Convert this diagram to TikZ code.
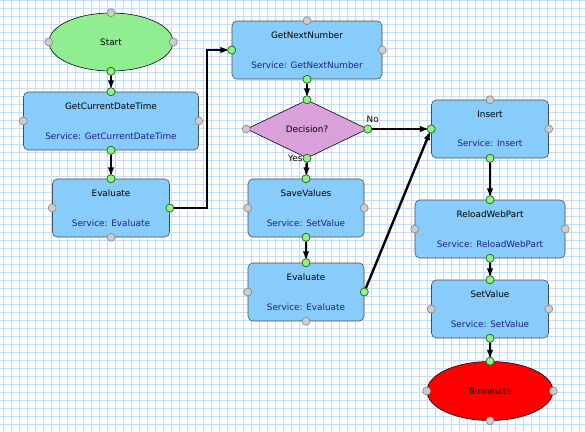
\documentclass[tikz,border=0pt]{standalone}
\usepackage{fontspec}
\usepackage{xcolor}
\usetikzlibrary{shapes,arrows.meta,positioning,backgrounds}
\newfontfamily\diafont{DejaVu Sans}
\definecolor{boxblue}{RGB}{135,204,250}
\definecolor{startgreen}{RGB}{144,238,144}
\definecolor{decpink}{RGB}{218,160,218}
\definecolor{termred}{RGB}{255,0,0}
\definecolor{svcblue}{RGB}{30,30,140}
\definecolor{gridblue}{RGB}{196,222,250}
\definecolor{dotgray}{RGB}{205,205,205}
\definecolor{dotgreen}{RGB}{150,238,140}

\begin{document}
\begin{tikzpicture}[
		x=0.25mm, y=-0.25mm,
		every node/.style={font=\diafont\fontsize{6.3}{7.5}\selectfont},
		service/.style={
			draw=black!70,
			rectangle,
			rounded corners=1.2mm,
			fill=boxblue,
			minimum height=58*0.25mm,
			inner sep=0pt,
			align=center
		},
		flow/.style={line width=1.7pt, -{Latex[length=7pt,width=4.5pt]}, shorten >=1pt},
		pin/.style={circle, draw=black!50, fill=dotgray, inner sep=0pt, minimum size=2mm},
		used/.style={circle, draw=green!40!black, fill=dotgreen, inner sep=0pt, minimum size=2mm}
		]
		
		% Grid
		\fill[white] (0,0) rectangle (585,431);
		\useasboundingbox (0,0) rectangle (585,431);
		\foreach \gx in {3,11,...,585}
		\draw[gridblue, line width=0.6pt] (\gx,0) -- (\gx,431);
		\foreach \gy in {0,8,...,431}
		\draw[gridblue, line width=0.6pt] (0,\gy) -- (585,\gy);
		
		% Start
		\node[
		draw,
		ellipse,
		fill=startgreen,
		minimum width=124*0.25mm,
		minimum height=58*0.25mm,
		inner sep=0pt
		] (start) at (111,42) {Start};
		
		% Left column
		\node[service, minimum width=175*0.25mm] (getdate) at (111,121)
		{GetCurrentDateTime\\[13.5pt]\textcolor{svcblue}{Service: GetCurrentDateTime}};
		
		\node[service, minimum width=117*0.25mm] (evalA) at (111,208)
		{Evaluate\\[13.5pt]\textcolor{svcblue}{Service: Evaluate}};
		
		% Middle column
		\node[service, minimum width=150*0.25mm] (nextnum) at (307,50)
		{GetNextNumber\\[13.5pt]\textcolor{svcblue}{Service: GetNextNumber}};
		
		\node[
		draw,
		diamond,
		fill=decpink,
		minimum width=121*0.25mm,
		minimum height=58*0.25mm,
		inner sep=0pt
		] (decision) at (307,129) {Decision?};
		
		\node[service, minimum width=116*0.25mm] (save) at (306,208)
		{SaveValues\\[13.5pt]\textcolor{svcblue}{Service: SetValue}};
		
		\node[service, minimum width=116*0.25mm] (evalB) at (306,292)
		{Evaluate\\[13.5pt]\textcolor{svcblue}{Service: Evaluate}};
		
		% Right column
		\node[service, minimum width=117*0.25mm] (insert) at (490,129)
		{Insert\\[13.5pt]\textcolor{svcblue}{Service: Insert}};
		
		\node[service, minimum width=150*0.25mm] (reload) at (490,229)
		{ReloadWebPart\\[13.5pt]\textcolor{svcblue}{Service: ReloadWebPart}};
		
		\node[service, minimum width=117*0.25mm] (setval) at (490,309)
		{SetValue\\[13.5pt]\textcolor{svcblue}{Service: SetValue}};
		
		% Terminate
		\node[
		draw,
		ellipse,
		fill=termred,
		minimum width=126*0.25mm,
		minimum height=59*0.25mm,
		inner sep=0pt
		] (term) at (490,391) {Terminate};
		
		% Arrows
		\draw[flow] (start.south) -- (getdate.north);
		\draw[flow] (getdate.south) -- (evalA.north);
		\draw[flow] (evalA.east) -- ++(37,0) |- (nextnum.west);
		\draw[flow] (nextnum.south) -- (decision.north);
		\draw[flow] (decision.south) -- (save.north);
		\draw[flow] (save.south) -- (evalB.north);
		\draw[flow] (decision.east) -- (insert.west);
		\draw[flow] (evalB.east) -- (insert.west);
		\draw[flow] (insert.south) -- (reload.north);
		\draw[flow] (reload.south) -- (setval.north);
		\draw[flow] (setval.south) -- (term.north);
		
		% Connection points
		\foreach \n in {start,getdate,evalA,nextnum,decision,save,evalB,insert,reload,setval,term}
		\foreach \a in {north,south,east,west}
		\node[pin] at (\n.\a) {};
		\foreach \n/\a in {start/south,getdate/north,getdate/south,evalA/north,evalA/east,
			nextnum/west,nextnum/south,decision/north,decision/east,decision/south,
			save/north,save/south,evalB/north,evalB/east,insert/west,insert/south,
			reload/north,reload/south,setval/north,setval/south,term/north}
		\node[used] at (\n.\a) {};
		
		% Branch labels
		\node[anchor=south west, inner sep=0pt, xshift=-1pt, yshift=4pt] (nolabel) at (decision.east) {No};
		\node[anchor=east, inner sep=0pt, xshift=-3pt] (yeslabel) at (decision.south) {Yes};
		
	\end{tikzpicture}
\end{document}
